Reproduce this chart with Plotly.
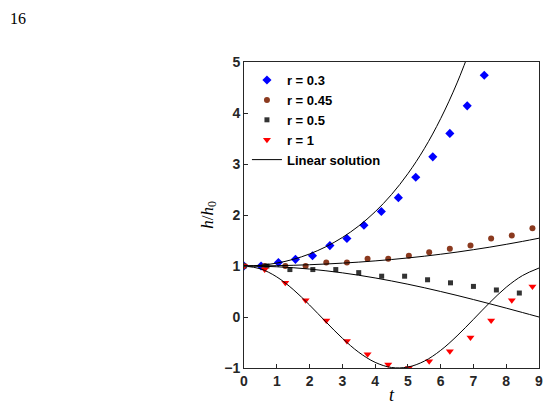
import plotly.graph_objects as go

t03 = [0, 0.52, 1.05, 1.57, 2.09, 2.62, 3.14, 3.66, 4.19, 4.71, 5.24, 5.76, 6.28, 6.81, 7.33]
h03 = [1, 1.0, 1.07, 1.13, 1.2, 1.4, 1.54, 1.8, 2.07, 2.34, 2.74, 3.14, 3.6, 4.14, 4.74]
t045 = [0, 0.63, 1.26, 1.88, 2.51, 3.14, 3.77, 4.40, 5.03, 5.65, 6.28, 6.91, 7.54, 8.17, 8.80]
h045 = [1, 1.0, 1.0, 1.0, 1.07, 1.07, 1.14, 1.14, 1.2, 1.27, 1.34, 1.4, 1.54, 1.6, 1.74]
t05 = [0, 0.7, 1.4, 2.1, 2.8, 3.5, 4.2, 4.9, 5.6, 6.3, 7.0, 7.7, 8.4]
h05 = [1, 1.0, 0.93, 0.93, 0.93, 0.87, 0.8, 0.8, 0.73, 0.67, 0.6, 0.53, 0.47]
t1 = [0, 0.63, 1.26, 1.88, 2.51, 3.14, 3.77, 4.40, 5.03, 5.65, 6.28, 6.91, 7.54, 8.17, 8.80]
h1 = [1, 0.93, 0.67, 0.33, -0.07, -0.47, -0.73, -0.93, -1.0, -0.87, -0.67, -0.4, -0.07, 0.33, 0.6]

tl = [0, 0.5, 1, 1.5, 2, 2.5, 3, 3.5, 4, 4.5, 5, 5.5, 6, 6.5, 7, 7.5, 8, 8.5, 9]
lin03 = [1, 1.014, 1.057, 1.130, 1.236, 1.378, 1.559, 1.785, 2.063, 2.401, 2.81, 3.30, 3.89, 4.59, 5.42]
lin045 = [1, 1.002, 1.006, 1.014, 1.025, 1.039, 1.056, 1.076, 1.100, 1.127, 1.158, 1.192, 1.231, 1.273, 1.320, 1.370, 1.425, 1.483, 1.545]
lin05 = [1, 0.996, 0.985, 0.966, 0.940, 0.906, 0.866, 0.819, 0.766, 0.707, 0.643, 0.574, 0.5, 0.423, 0.342, 0.259, 0.174, 0.087, 0]
lin1 = [1, 0.945, 0.786, 0.540, 0.235, -0.096, -0.416, -0.691, -0.889, -0.990, -0.981, -0.866, -0.654, -0.370, -0.046, 0.284, 0.584, 0.814, 0.960]

fig = go.Figure()
fig.add_trace(go.Scatter(x=t03, y=h03, mode="markers", name="r = 0.3",
                         marker=dict(symbol="diamond", color="#0000ff", size=7)))
fig.add_trace(go.Scatter(x=t045, y=h045, mode="markers", name="r = 0.45",
                         marker=dict(symbol="circle", color="#8b3a1f", size=6)))
fig.add_trace(go.Scatter(x=t05, y=h05, mode="markers", name="r = 0.5",
                         marker=dict(symbol="square", color="#333333", size=5)))
fig.add_trace(go.Scatter(x=t1, y=h1, mode="markers", name="r = 1",
                         marker=dict(symbol="triangle-down", color="#ff0000", size=7)))
for i, ys in enumerate([lin03, lin045, lin05, lin1]):
    fig.add_trace(go.Scatter(x=tl[:len(ys)], y=ys, mode="lines", name="Linear solution",
                             line=dict(color="black", width=1, shape="spline"),
                             showlegend=(i == 0)))

ax = dict(showline=True, linecolor="#262626", linewidth=1, mirror=True, ticks="inside",
          ticklen=4, tickcolor="#262626", showgrid=False, zeroline=False,
          tickfont=dict(family="Arial, Liberation Sans", size=14, color="#262626", weight="bold"))
fig.update_layout(
    width=544, height=408, margin=dict(l=236, r=9, t=54, b=48),
    plot_bgcolor="white", paper_bgcolor="white",
    xaxis=dict(ax, range=[0, 9], dtick=1,
               title=dict(text="<i>t</i>", font=dict(family="Liberation Serif", size=18, color="black"), standoff=0)),
    yaxis=dict(ax, range=[-1, 5], dtick=1,
               title=dict(text="<i>h</i>/<i>h</i><sub>0</sub>", font=dict(family="Liberation Serif", size=17, color="black"), standoff=6)),
    legend=dict(x=0.01, y=0.99, xanchor="left", yanchor="top", bgcolor="rgba(0,0,0,0)",
                font=dict(family="Arial, Liberation Sans", size=13, color="black", weight="bold"),
                tracegroupgap=0, itemwidth=30),
    font=dict(family="Arial, Liberation Sans"),
    annotations=[dict(text="16", x=-236/299 - 0.01, y=1 + 54/306, xref="paper", yref="paper",
                      showarrow=False, font=dict(family="Liberation Serif", size=16, color="black"),
                      xanchor="left", yanchor="top")],
)
fig.write_html("out.html")
